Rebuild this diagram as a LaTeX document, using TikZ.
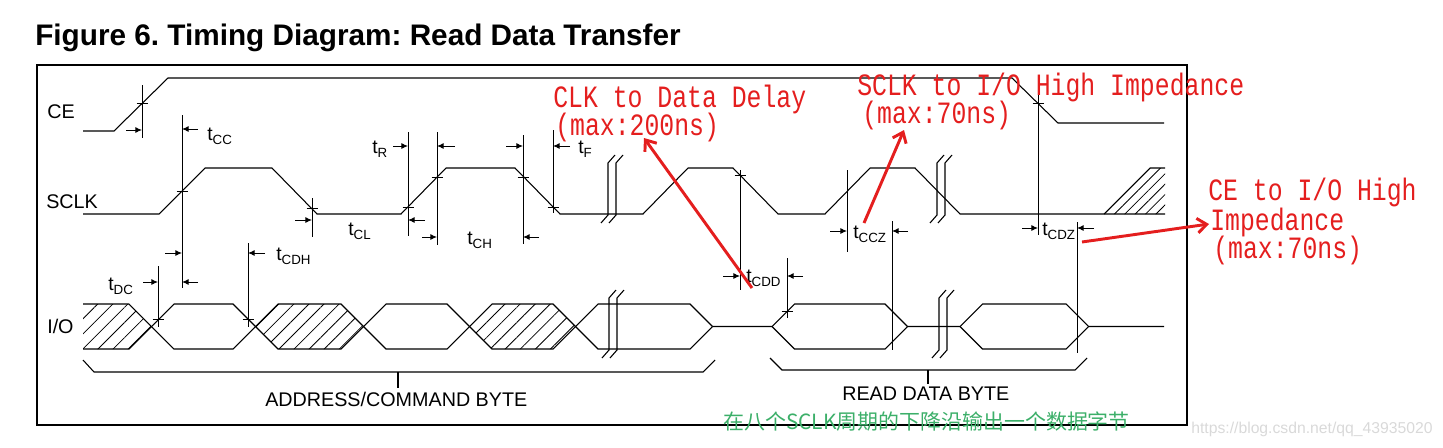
\documentclass[tikz,border=0pt]{standalone}
\usepackage{fontspec}
\setmainfont{Liberation Sans}
\newfontfamily\notefont{Liberation Mono}
\newfontfamily\cjkfont{Noto Sans CJK SC}
\usepackage{tikz}
\usetikzlibrary{arrows.meta,patterns.meta}
\definecolor{notered}{RGB}{228,30,30}
\definecolor{notegreen}{RGB}{60,175,105}
\newcommand{\tsub}[1]{t\raisebox{-3pt}{\fontsize{10}{12}\selectfont #1}}
\newcommand{\tall}[1]{\scalebox{1}[1.25]{#1}}
\frenchspacing

\begin{document}
\begin{tikzpicture}[x=0.75pt,y=-0.75pt,
  wave/.style={line width=0.8pt},
  guide/.style={line width=0.7pt},
  dimarrow/.style={line width=0.7pt,-{Latex[length=5pt,width=4.5pt]}},
  sig/.style={font=\fontsize{14.8}{17}\selectfont,anchor=base west,inner sep=0pt},
  tlabel/.style={font=\fontsize{14.5}{17}\selectfont,anchor=base west,inner sep=0pt},
  note/.style={text=notered,font=\notefont\fontsize{18.6}{22}\selectfont,anchor=base west,inner sep=0pt},
  notearrow/.style={draw=notered,line width=2.2pt,-{Straight Barb[length=7pt,width=11pt]}},
  hatch/.style={pattern={Lines[angle=45,distance=8pt,line width=0.6pt]}}]
\useasboundingbox (0,0) rectangle (1443,447);

\node[anchor=base west,inner sep=0pt,font=\bfseries\fontsize{22.3}{26}\selectfont] (title) at (35,45) {Figure 6. Timing Diagram: Read Data Transfer};
\draw[line width=1.5pt] (37,65) rectangle (1187,425);

% signal names
\node[sig] (ce) at (47,118) {CE};
\node[sig] (sclk) at (46,208) {SCLK};
\node[sig] (io) at (47,333) {I/O};

% CE and SCLK
\draw[wave] (83,131) -- (114,131) -- (168,78) -- (1012,78) -- (1058,123) -- (1164,123);
\draw[wave] (83,214) -- (159,214) -- (205,168) -- (272,168) -- (317,214) -- (401,214) -- (446,168) -- (515,168) -- (560,214)
  -- (643,214) -- (688,168) -- (733,168) -- (778,214) -- (825,214) -- (870,168) -- (915,168) -- (960,214) -- (1165,214);
\fill[pattern={Lines[angle=45,distance=5.5pt,line width=0.6pt]}] (1104,214) -- (1150,168) -- (1165,168) -- (1165,214) -- cycle;
\draw[wave] (1104,214) -- (1150,168) -- (1165,168);

% I/O
\fill[hatch] (83,304) -- (129,304) -- (151.5,326.5) -- (129,349) -- (83,349) -- cycle;
\fill[hatch] (255.5,326.5) -- (278,304) -- (341,304) -- (363.5,326.5) -- (341,349) -- (278,349) -- cycle;
\fill[hatch] (469.5,326.5) -- (492,304) -- (553,304) -- (575.5,326.5) -- (553,349) -- (492,349) -- cycle;
\draw[wave] (83,304) -- (129,304) -- (174,349) -- (233,349) -- (278,304) -- (341,304) -- (386,349) -- (447,349) -- (492,304)
  -- (553,304) -- (598,349) -- (690,349) -- (712.5,326.5);
\draw[wave] (83,349) -- (129,349) -- (174,304) -- (233,304) -- (278,349) -- (341,349) -- (386,304) -- (447,304) -- (492,349)
  -- (553,349) -- (598,304) -- (690,304) -- (712.5,326.5);
\draw[wave] (712.5,326.5) -- (772,326.5) -- (794.5,304) -- (885,304) -- (907.5,326.5) -- (960,326.5) -- (982.5,304) -- (1066,304)
  -- (1088.5,326.5) -- (1164,326.5);
\draw[wave] (772,326.5) -- (794.5,349) -- (885,349) -- (907.5,326.5);
\draw[wave] (960,326.5) -- (982.5,349) -- (1066,349) -- (1088.5,326.5);

% breaks
\foreach \bx in {608,616,937,945}
  \draw[wave] (\bx+7,155) -- (\bx,163) -- (\bx,215) -- (\bx-7,223);
\foreach \bx in {609,617,939,947}
  \draw[wave] (\bx+7,290) -- (\bx,298) -- (\bx,350) -- (\bx-7,358);

% timing guides
\foreach \x/\ya/\yb in {142/85/138, 182/115/288, 158/266/327, 248/243/327, 312/198/237, 408/132/236, 437/132/245,
  523/135/244, 553/130/213, 740/170/290, 787/258/318, 847/170/252, 892/221/350, 1038/93/235, 1077/222/353}
  \draw[guide] (\x,\ya) -- (\x,\yb);
\foreach \x/\y in {142/103, 182/191, 312/208, 408/207, 437/177, 523/177, 553/207, 740/175, 158/319, 248/319, 787/311, 1038/103}
  \draw[guide] (\x-5.5,\y) -- (\x+5.5,\y);
\foreach \xa/\xb/\y in {126/142/130, 198/182/129, 198/182/282, 165/182/253, 143/158/282, 265/248/253, 295/312/220,
  393/408/146, 425/408/220, 455/437/146, 422/437/237, 506/523/146, 539/523/237, 570/553/146, 723/740/276,
  803/787/276, 830/847/231, 908/892/231, 1022/1038/228, 1094/1077/228}
  \draw[dimarrow] (\xa,\y) -- (\xb,\y);

\node[tlabel] (tcc) at (207,140) {\tsub{CC}};
\node[tlabel] (tr) at (372,153) {\tsub{R}};
\node[tlabel] (tf) at (578,153) {\tsub{F}};
\node[tlabel] (tcl) at (348,235) {\tsub{CL}};
\node[tlabel] (tch) at (467,244) {\tsub{CH}};
\node[tlabel] (tdc) at (108,290) {\tsub{DC}};
\node[tlabel] (tcdh) at (276,260) {\tsub{CDH}};
\node[tlabel] (tcdd) at (746,282) {\tsub{CDD}};
\node[tlabel] (tccz) at (853,238) {\tsub{CCZ}};
\node[tlabel] (tcdz) at (1042,235) {\tsub{CDZ}};

% bytes
\draw[wave] (83,360) -- (94,372) -- (703,372) -- (715,360);
\draw[wave] (398,372) -- (398,388);
\node[sig] (addr) at (265,406) {ADDRESS/COMMAND BYTE};
\draw[wave] (770,358) -- (782,370) -- (1075,370) -- (1087,358);
\draw[wave] (928,370) -- (928,384);
\node[sig] (rdb) at (842,400) {READ DATA BYTE};

% notes
\node[note] (clkd1) at (553,107) {\tall{CLK to Data Delay}};
\node[note] (clkd2) at (555,135) {\tall{(max:200ns)}};
\node[note] (sclkz1) at (857,95) {\tall{SCLK to I/O High Impedance}};
\node[note] (sclkz2) at (862,123) {\tall{(max:70ns)}};
\node[note] (cez1) at (1208,200) {\tall{CE to I/O High}};
\node[note] (cez2) at (1210,230) {\tall{Impedance}};
\node[note] (cez3) at (1213,258) {\tall{(max:70ns)}};
\coordinate (clktail) at (752,288);
\coordinate (clkhead) at (644,138);
\coordinate (sclktail) at (864,223);
\coordinate (sclkhead) at (904,130);
\coordinate (cetail) at (1082,242);
\coordinate (cehead) at (1209,224);
\draw[notearrow] (clktail) -- (clkhead);
\draw[notearrow] (sclktail) -- (sclkhead);
\draw[notearrow] (cetail) -- (cehead);

\node[anchor=base west,inner sep=0pt,text=notegreen,font=\cjkfont\fontsize{15.7}{18}\selectfont] (cjknote) at (723,429) {在八个SCLK周期的下降沿输出一个数据字节};
\node[anchor=base west,inner sep=0pt,text=black!15,font=\fontsize{11.8}{14}\selectfont] (wmark) at (1191,433) {https://blog.csdn.net/qq\_43935020};
\end{tikzpicture}
\end{document}
